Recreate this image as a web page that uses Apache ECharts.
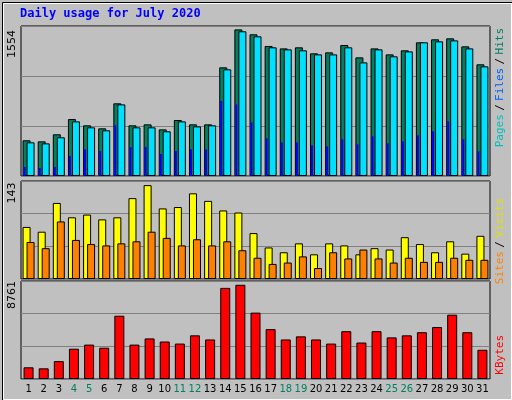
<!DOCTYPE html>
<html><head><meta charset="utf-8">
<script src="https://cdn.jsdelivr.net/npm/echarts@6/dist/echarts.min.js"></script>
<style>html,body{margin:0;padding:0;background:#c0c0c0}#c{width:512px;height:400px}</style>
</head><body><div id="c"></div>
<script>
const days = ['1','2','3','4','5','6','7','8','9','10','11','12','13','14','15','16','17','18','19','20','21','22','23','24','25','26','27','28','29','30','31'];
const weekend = ['4','5','11','12','18','19','25','26'];
const hits = [370,359,432,590,525,494,753,525,535,483,580,535,535,1126,1519,1468,1347,1322,1333,1271,1281,1357,1229,1322,1260,1302,1385,1416,1426,1343,1157];
const files = [349,338,401,566,504,473,742,504,504,463,566,514,525,1105,1499,1447,1333,1312,1302,1260,1260,1333,1177,1312,1240,1291,1385,1395,1405,1322,1136];
const pages = [93,83,93,207,276,259,525,300,300,228,259,276,276,777,742,556,390,349,349,318,307,380,328,411,338,359,421,463,566,380,255];
const sites = [76,69,111,90,94,87,90,118,137,103,105,125,114,100,97,67,46,39,52,36,52,49,36,45,43,61,51,39,55,37,63];
const visits = [54,45,84,57,51,49,52,55,69,60,49,58,49,55,42,31,22,24,33,16,39,30,43,30,24,31,25,25,31,28,28];
const kbytes = [1045,953,1598,2705,3074,2797,5656,3074,3627,3351,3166,3904,3535,8146,8423,5933,4457,3535,3812,3535,3166,4273,3258,4273,3720,3904,4181,4642,5748,4181,2613];
const maxTop = 1554, maxMid = 143, maxBot = 8761;

const chart = echarts.init(document.getElementById('c'));
const L = 21, R = 22;
const grids = [
  {left:L,right:R,top:26,height:150},
  {left:L,right:R,top:181,height:98},
  {left:L,right:R,top:281,height:98}
].map(g=>Object.assign(g,{show:true,backgroundColor:'#c0c0c0',borderColor:'#000',borderWidth:1}));
function xa(grid, showLabels){
  return {type:'category',data:days,gridIndex:grid,axisTick:{show:false},axisLine:{show:false},
    axisLabel:{show:showLabels,interval:0,margin:5,fontSize:10,fontFamily:'DejaVu Sans',
      formatter:v=>weekend.includes(v)?'{w|'+v+'}':'{n|'+v+'}',
      rich:{w:{color:'#008060',fontSize:10,fontFamily:'DejaVu Sans'},n:{color:'#000',fontSize:10,fontFamily:'DejaVu Sans'}}}};
}
function ya(grid,max){
  return {type:'value',gridIndex:grid,min:0,max:max,interval:max/3,axisLabel:{show:false},axisLine:{show:false},axisTick:{show:false},
    splitLine:{lineStyle:{color:'#808080',width:1}}};
}
const bs = c=>({color:c,borderColor:'#000',borderWidth:1});
const option = {
  animation:false,
  grid:grids,
  xAxis:[xa(0,false),xa(0,false),xa(1,false),xa(2,true)],
  yAxis:[ya(0,maxTop),ya(0,maxTop),ya(1,maxMid),ya(2,maxBot)],
  series:[
    {type:'bar',name:'Hits',xAxisIndex:0,yAxisIndex:0,data:hits,barWidth:8,barGap:'-50%',itemStyle:bs('#008060')},
    {type:'bar',name:'Files',xAxisIndex:0,yAxisIndex:0,data:files,barWidth:8,barGap:'-50%',itemStyle:bs('#00e0ff')},
    {type:'bar',name:'Pages',xAxisIndex:1,yAxisIndex:1,data:pages,barWidth:2,barGap:'0%',itemStyle:{color:'#0000ff',borderColor:'#000',borderWidth:0},z:5},
    {type:'bar',name:'pad',xAxisIndex:1,yAxisIndex:1,data:[],barWidth:8,barGap:'0%'},
    {type:'bar',name:'Sites',xAxisIndex:2,yAxisIndex:2,data:sites,barWidth:8,barGap:'-50%',itemStyle:bs('#ffff00')},
    {type:'bar',name:'Visits',xAxisIndex:2,yAxisIndex:2,data:visits,barWidth:8,barGap:'-50%',itemStyle:bs('#ff8000')},
    {type:'bar',name:'KBytes',xAxisIndex:3,yAxisIndex:3,data:kbytes,barWidth:10,itemStyle:bs('#ff0000')}
  ],
  graphic:[
    {type:'rect',left:0,top:0,shape:{width:511,height:399},style:{fill:'none',stroke:'#000',lineWidth:1},silent:true},
    {type:'rect',left:1,top:1,shape:{width:508,height:396},style:{fill:'none',stroke:'#fff',lineWidth:1},silent:true},
    {type:'text',left:20,top:8,style:{text:'Daily usage for July 2020',fill:'#0000ff',font:'bold 12px "DejaVu Sans Mono"'}},
    {type:'text',x:12,y:44,rotation:Math.PI/2,style:{text:String(maxTop),fill:'#000',font:'11px "DejaVu Sans"',align:'center',verticalAlign:'middle'}},
    {type:'text',x:12,y:193,rotation:Math.PI/2,style:{text:String(maxMid),fill:'#000',font:'11px "DejaVu Sans"',align:'center',verticalAlign:'middle'}},
    {type:'text',x:12,y:295,rotation:Math.PI/2,style:{text:String(maxBot),fill:'#000',font:'11px "DejaVu Sans"',align:'center',verticalAlign:'middle'}},
    {type:'text',x:500,y:28,rotation:Math.PI/2,style:{text:'{p|Pages} {s|/} {f|Files} {s|/} {h|Hits}',align:'right',verticalAlign:'middle',
      rich:{p:{fill:'#00c0c0',font:'11px "DejaVu Sans Mono"'},f:{fill:'#0060ff',font:'11px "DejaVu Sans Mono"'},h:{fill:'#008060',font:'11px "DejaVu Sans Mono"'},s:{fill:'#000',font:'11px "DejaVu Sans Mono"'}}}},
    {type:'text',x:500,y:198,rotation:Math.PI/2,style:{text:'{a|Sites} {s|/} {b|Visits}',align:'right',verticalAlign:'middle',
      rich:{a:{fill:'#ff8000',font:'11px "DejaVu Sans Mono"'},b:{fill:'#e0e000',font:'11px "DejaVu Sans Mono"'},s:{fill:'#000',font:'11px "DejaVu Sans Mono"'}}}},
    {type:'text',x:500,y:335,rotation:Math.PI/2,style:{text:'KBytes',fill:'#ff0000',font:'11px "DejaVu Sans Mono"',align:'right',verticalAlign:'middle'}}
  ]
};
chart.setOption(option);
</script></body></html>
